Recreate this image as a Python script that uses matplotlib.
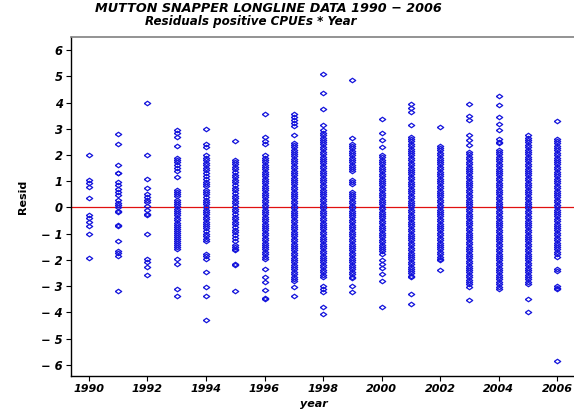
# residuals of positive CPUEs by year, mutton snapper longline data

import matplotlib
matplotlib.use("Agg")
import matplotlib.pyplot as plt
import numpy as np

# residuals, one list per year
r1990 = [2.0, 1.05, 0.92, 0.78, 0.36, -0.28, -0.39, -0.55, -0.71, -1.0, -1.92]
r1991 = [2.81, 2.43, 1.63, 1.33, 1.3, 0.97, 0.85, 0.72, 0.6, 0.46, 0.3, 0.18,
         0.1, 0.0, -0.12, -0.18, -0.68, -0.72, -1.29, -1.66, -1.75, -1.86, -3.2]
r1992 = [3.98, 1.98, 1.09, 0.75, 0.52, 0.39, 0.3, 0.2, 0.05, -0.11, -0.24, -0.3,
         -1.0, -1.96, -2.08, -2.27, -2.59]
r1993 = [2.97, 2.85, 2.7, 2.33, 1.9, 1.82, 1.72, 1.62, 1.5, 1.4, 1.16, 0.68, 0.6,
         0.5, 0.42, 0.3, 0.22, 0.12, 0.05, -0.05, -0.15, -0.22, -0.3, -0.4, -0.48,
         -0.58, -0.66, -0.75, -0.82, -0.9, -0.98, -1.05, -1.12, -1.2, -1.28, -1.35,
         -1.45, -1.52, -1.6, -1.96, -2.15, -3.12, -3.36]
r1994 = [3.0, 2.43, 2.3, 1.98, 1.9, 1.8, 1.7, 1.62, 1.52, 1.42, 1.3, 1.2, 1.1, 0.98,
         0.88, 0.8, 0.68, 0.58, 0.5, 0.4, 0.3, 0.2, 0.12, 0.02, -0.08, -0.18, -0.26,
         -0.35, -0.45, -0.55, -0.62, -0.72, -0.8, -0.9, -1.0, -1.1, -1.2, -1.3,
         -1.76, -1.85, -1.96, -2.47, -3.04, -3.38, -4.29]
r1995 = [2.53, 1.82, 1.75, 1.65, 1.55, 1.45, 1.35, 1.25, 1.15, 1.05, 0.95, 0.85,
         0.75, 0.65, 0.55, 0.45, 0.35, 0.25, 0.15, 0.05, -0.05, -0.15, -0.25, -0.35,
         -0.45, -0.55, -0.65, -0.75, -0.85, -0.95, -1.05, -1.15, -1.3, -1.42, -1.5,
         -1.58, -1.64, -2.15, -2.21, -3.17]
r1996 = [3.55, 2.68, 2.55, 2.43, 1.98, 1.9, 1.8, 1.72, 1.62, 1.55, 1.45, 1.36, 1.28,
         1.18, 1.1, 1.0, 0.92, 0.82, 0.74, 0.65, 0.55, 0.46, 0.38, 0.28, 0.2, 0.1,
         0.02, -0.08, -0.16, -0.26, -0.35, -0.44, -0.52, -0.62, -0.7, -0.8, -0.88,
         -0.98, -1.06, -1.16, -1.25, -1.34, -1.42, -1.52, -1.6, -1.7, -1.78, -1.88,
         -1.96, -2.34, -2.66, -2.85, -3.14, -3.45, -3.5]
r1997 = [3.57, 3.45, 3.35, 3.22, 3.1, 2.75, 2.45, 2.38, 2.3, 2.2, 2.12, 2.02, 1.95,
         1.85, 1.76, 1.68, 1.58, 1.5, 1.4, 1.32, 1.22, 1.14, 1.05, 0.96, 0.88, 0.78,
         0.7, 0.6, 0.52, 0.42, 0.34, 0.25, 0.16, 0.06, -0.02, -0.12, -0.2, -0.3,
         -0.38, -0.48, -0.56, -0.66, -0.74, -0.84, -0.92, -1.02, -1.1, -1.2, -1.28,
         -1.38, -1.46, -1.56, -1.64, -1.74, -1.82, -1.92, -2.0, -2.1, -2.18, -2.28,
         -2.36, -2.46, -2.55, -2.64, -2.72, -2.79, -3.04, -3.36]
r1998 = [5.1, 4.36, 3.74, 3.16, 2.94, 2.85, 2.76, 2.66, 2.58, 2.48, 2.4, 2.3, 2.22,
         2.12, 2.04, 1.94, 1.86, 1.76, 1.68, 1.58, 1.5, 1.4, 1.32, 1.22, 1.14, 1.04,
         0.96, 0.86, 0.78, 0.68, 0.6, 0.5, 0.42, 0.32, 0.24, 0.14, 0.06, -0.04, -0.12,
         -0.22, -0.3, -0.4, -0.48, -0.58, -0.66, -0.76, -0.84, -0.94, -1.02, -1.12,
         -1.2, -1.3, -1.38, -1.48, -1.56, -1.66, -1.74, -1.84, -1.92, -2.02, -2.1,
         -2.2, -2.28, -2.38, -2.46, -2.56, -2.66, -2.98, -3.1, -3.22, -3.8, -4.06]
r1999 = [4.87, 2.66, 2.43, 2.35, 2.26, 2.16, 2.08, 1.98, 1.9, 1.8, 1.72, 1.62, 1.55,
         1.46, 1.38, 1.05, 0.96, 0.88, 0.6, 0.52, 0.42, 0.34, 0.24, 0.16, 0.06,
         -0.02, -0.12, -0.2, -0.3, -0.38, -0.48, -0.56, -0.66, -0.74, -0.84, -0.92,
         -1.02, -1.1, -1.2, -1.28, -1.38, -1.46, -1.56, -1.64, -1.74, -1.82, -1.92,
         -2.0, -2.1, -2.18, -2.28, -2.36, -2.46, -2.55, -2.64, -2.71, -2.98, -3.23]
r2000 = [3.36, 2.82, 2.56, 2.3, 2.0, 1.92, 1.82, 1.74, 1.64, 1.56, 1.46, 1.38, 1.28,
         1.2, 1.1, 1.02, 0.92, 0.84, 0.74, 0.66, 0.56, 0.48, 0.38, 0.3, 0.2, 0.12,
         0.02, -0.06, -0.16, -0.24, -0.34, -0.42, -0.52, -0.6, -0.7, -0.78, -0.88,
         -0.96, -1.06, -1.14, -1.24, -1.32, -1.42, -1.5, -1.6, -1.68, -1.77, -2.0,
         -2.15, -2.3, -2.53, -2.79, -3.81]
r2001 = [3.93, 3.8, 3.64, 3.13, 2.7, 2.6, 2.52, 2.42, 2.34, 2.24, 2.16, 2.06, 1.98,
         1.88, 1.8, 1.7, 1.62, 1.52, 1.44, 1.34, 1.26, 1.16, 1.08, 0.98, 0.9, 0.8,
         0.72, 0.62, 0.54, 0.44, 0.36, 0.26, 0.18, 0.08, 0.0, -0.1, -0.18, -0.28,
         -0.36, -0.46, -0.54, -0.64, -0.72, -0.82, -0.9, -1.0, -1.08, -1.18, -1.26,
         -1.36, -1.44, -1.54, -1.62, -1.72, -1.8, -1.9, -1.98, -2.08, -2.16, -2.26,
         -2.34, -2.44, -2.52, -2.6, -2.66, -3.29, -3.67]
r2002 = [3.06, 2.35, 2.26, 2.18, 2.08, 2.0, 1.9, 1.82, 1.72, 1.64, 1.54, 1.46, 1.36,
         1.28, 1.18, 1.1, 1.0, 0.92, 0.82, 0.74, 0.64, 0.56, 0.46, 0.38, 0.28, 0.2,
         0.1, 0.02, -0.08, -0.16, -0.26, -0.34, -0.44, -0.52, -0.62, -0.7, -0.8,
         -0.88, -0.98, -1.06, -1.16, -1.24, -1.34, -1.42, -1.52, -1.6, -1.7, -1.78,
         -1.88, -1.96, -2.02, -2.4]
r2003 = [3.93, 3.47, 3.32, 2.75, 2.56, 2.37, 2.1, 2.02, 1.92, 1.84, 1.74, 1.66, 1.56,
         1.48, 1.38, 1.3, 1.2, 1.12, 1.02, 0.94, 0.84, 0.76, 0.66, 0.58, 0.48, 0.4,
         0.3, 0.22, 0.12, 0.04, -0.06, -0.14, -0.24, -0.32, -0.42, -0.5, -0.6, -0.68,
         -0.78, -0.86, -0.96, -1.04, -1.14, -1.22, -1.32, -1.4, -1.5, -1.58, -1.68,
         -1.76, -1.86, -1.94, -2.04, -2.12, -2.22, -2.3, -2.4, -2.48, -2.58, -2.66,
         -2.76, -2.84, -2.94, -3.04, -3.55]
r2004 = [4.24, 3.9, 3.44, 3.2, 2.95, 2.6, 2.5, 2.44, 2.2, 2.12, 2.02, 1.94, 1.84,
         1.76, 1.66, 1.58, 1.48, 1.4, 1.3, 1.22, 1.12, 1.04, 0.94, 0.86, 0.76, 0.68,
         0.58, 0.5, 0.4, 0.32, 0.22, 0.14, 0.04, -0.04, -0.14, -0.22, -0.32, -0.4,
         -0.5, -0.58, -0.68, -0.76, -0.86, -0.94, -1.04, -1.12, -1.22, -1.3, -1.4,
         -1.48, -1.58, -1.66, -1.76, -1.84, -1.94, -2.02, -2.12, -2.2, -2.3, -2.38,
         -2.48, -2.56, -2.66, -2.74, -2.84, -2.92, -3.02, -3.1]
r2005 = [2.76, 2.66, 2.57, 2.48, 2.38, 2.3, 2.2, 2.12, 2.02, 1.94, 1.84, 1.76, 1.66,
         1.58, 1.48, 1.4, 1.3, 1.22, 1.12, 1.04, 0.94, 0.86, 0.76, 0.68, 0.58, 0.5,
         0.4, 0.32, 0.22, 0.14, 0.04, -0.04, -0.14, -0.22, -0.32, -0.4, -0.5, -0.58,
         -0.68, -0.76, -0.86, -0.94, -1.04, -1.12, -1.22, -1.3, -1.4, -1.48, -1.58,
         -1.66, -1.76, -1.84, -1.94, -2.02, -2.12, -2.2, -2.3, -2.38, -2.48, -2.56,
         -2.66, -2.74, -2.84, -2.91, -3.48, -4.0]
r2006 = [3.29, 2.62, 2.54, 2.44, 2.36, 2.26, 2.18, 2.08, 2.0, 1.9, 1.82, 1.72, 1.64,
         1.54, 1.46, 1.36, 1.28, 1.18, 1.1, 1.0, 0.92, 0.82, 0.74, 0.64, 0.56, 0.46,
         0.38, 0.28, 0.2, 0.1, 0.02, -0.08, -0.16, -0.26, -0.34, -0.44, -0.52, -0.62,
         -0.7, -0.8, -0.88, -0.98, -1.06, -1.16, -1.24, -1.34, -1.42, -1.52, -1.6,
         -1.7, -1.78, -1.9, -2.36, -2.44, -2.98, -3.06, -3.12, -5.87]

years = list(range(1990, 2007))
resid_lists = [r1990, r1991, r1992, r1993, r1994, r1995, r1996, r1997, r1998,
               r1999, r2000, r2001, r2002, r2003, r2004, r2005, r2006]

x = np.concatenate([[yr] * len(r) for yr, r in zip(years, resid_lists)])
y = np.concatenate(resid_lists)

xticks = list(range(1990, 2007, 2))
yticks = list(range(-6, 7))

bi = dict(family="DejaVu Sans", weight="bold", style="italic")

# flat open diamond, wider than tall
flat_diamond = [(-1, 0), (0, 0.7), (1, 0), (0, -0.7), (-1, 0)]

fig = plt.figure(figsize=(5.74, 4.15), dpi=100)
# axes runs past the right edge of the image, like the original
ax = fig.add_axes([71 / 574, 39 / 415, 534 / 574, 338.5 / 415])

ax.axhline(0, color="#e01010", lw=0.9, zorder=1)
ax.plot(x, y, ls="none", marker=flat_diamond, ms=4.6, mfc="none", mec="#1414dc",
        mew=0.9, zorder=2)

ax.set_xlim(1989.385, 2007.64)
ax.set_ylim(-6.43, 6.48)
ax.set_xticks(xticks)
ax.set_yticks(yticks)
ax.set_xticklabels([str(t) for t in xticks], fontsize=8, **bi)
ax.set_yticklabels([str(t).replace("-", "\u2212 ") for t in yticks], fontsize=8.3, **bi)
ax.tick_params(direction="out", length=3.5, width=0.8, pad=2.5)

ax.spines["top"].set_color("#808080")
ax.spines["top"].set_linewidth(1.2)
for s in ["left", "bottom"]:
    ax.spines[s].set_linewidth(1.0)

fig.text(268 / 574, 1 - 8 / 415, "MUTTON SNAPPER LONGLINE DATA 1990 \u2212 2006",
         ha="center", va="center", fontsize=9.2, **bi)
fig.text(251 / 574, 1 - 21 / 415, "Residuals positive CPUEs * Year",
         ha="center", va="center", fontsize=8.6, **bi)
fig.text(314 / 574, 1 - 404 / 415, "year", ha="center", va="center",
         fontsize=8, **bi)
fig.text(23 / 574, 1 - 197 / 415, "Resid", ha="center", va="center",
         rotation=90, fontsize=8, weight="bold", family="DejaVu Sans")

fig.savefig("out.png", dpi=100)
